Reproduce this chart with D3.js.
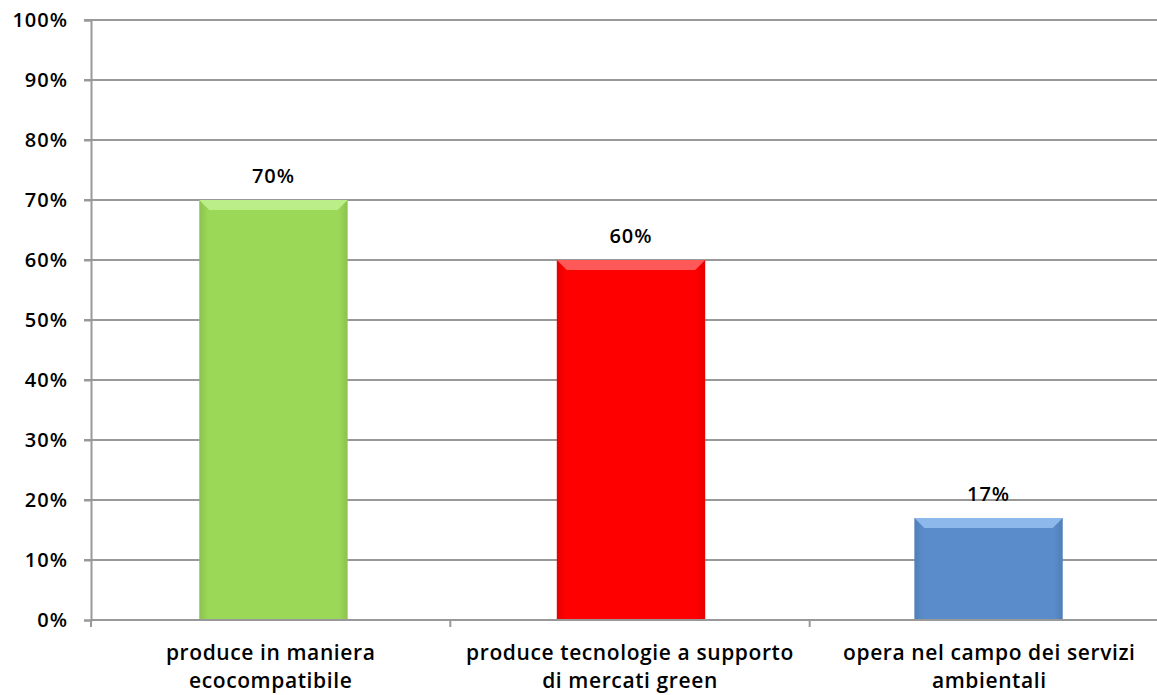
<!DOCTYPE html>
<html><head><meta charset="utf-8">
<script src="https://cdn.jsdelivr.net/npm/d3@7"></script>
<style>body{margin:0;background:#fff}svg{display:block}text{font-family:"Open Sans",sans-serif;fill:#000}</style>
</head><body><svg id="c" width="1157" height="695"></svg>
<script>
const categories = [["produce in maniera","ecocompatibile"],["produce tecnologie a supporto","di mercati green"],["opera nel campo dei servizi","ambientali"]];
const values = [70, 60, 17];
const barColors = ["#9bd858","#fe0000","#5a8ccc"];
const barTops = ["#bbee88","#ff5858","#8cb8ec"];
const yTicks = [0,10,20,30,40,50,60,70,80,90,100];

const svg = d3.select("#c");
const x0 = 91, x1 = 1169, yTop = 20, yBot = 620;
const x = d3.scaleBand().domain(d3.range(categories.length)).range([x0, x1]).paddingInner(0.585).paddingOuter(0.3);
const xb = d3.scaleBand().domain(d3.range(categories.length)).range([x0, x1]);
const y = d3.scaleLinear().domain([0,100]).range([yBot, yTop]);

svg.append("g").selectAll("line").data(yTicks.filter(d=>d>0)).join("line")
  .attr("x1", x0-7).attr("x2", 1157).attr("y1", d=>y(d)).attr("y2", d=>y(d))
  .attr("stroke","#999").attr("stroke-width",2);
const ya = svg.append("g").attr("transform",`translate(${x0},0)`)
  .call(d3.axisLeft(y).tickValues(yTicks).tickFormat(d=>d+"%").tickSize(7).tickPadding(16));
ya.select(".domain").attr("stroke","#999").attr("stroke-width",2);
ya.selectAll(".tick line").attr("stroke","#999").attr("stroke-width",2);
ya.selectAll("text").style("font-size","20px").style("font-weight","600").style("letter-spacing","1px").attr("fill","#000");

const defs = svg.append("defs");
values.forEach((v,i)=>{
  const g = defs.append("linearGradient").attr("id","g"+i).attr("x1",0).attr("x2",1).attr("y1",0).attr("y2",0);
  g.append("stop").attr("offset","0").attr("stop-color",d3.color(barColors[i]).darker(0.3));
  g.append("stop").attr("offset","0.06").attr("stop-color",barColors[i]);
  g.append("stop").attr("offset","0.94").attr("stop-color",barColors[i]);
  g.append("stop").attr("offset","1").attr("stop-color",d3.color(barColors[i]).darker(0.3));
});

const bars = svg.append("g").selectAll("g").data(values).join("g");
bars.append("rect").attr("x",(d,i)=>x(i)+1).attr("width",x.bandwidth())
  .attr("y",d=>y(d)).attr("height",d=>yBot-y(d)).attr("fill",(d,i)=>`url(#g${i})`);
bars.append("path").attr("d",(d,i)=>{const l=x(i)+1,r=l+x.bandwidth(),t=y(d),h=10;
  return `M${l},${t}L${r},${t}L${r-h},${t+h}L${l+h},${t+h}Z`;}).attr("fill",(d,i)=>barTops[i]);
bars.append("text").attr("x",(d,i)=>x(i)+1+x.bandwidth()/2).attr("y",d=>y(d)-17)
  .attr("text-anchor","middle").style("font-size","20px").style("font-weight","600").style("letter-spacing","1px").text(d=>d+"%");

svg.append("line").attr("x1",x0).attr("x2",1157).attr("y1",yBot).attr("y2",yBot).attr("stroke","#999").attr("stroke-width",2);
svg.append("g").selectAll("line").data(d3.range(categories.length+1)).join("line")
  .attr("x1",i=>x0+i*xb.bandwidth()).attr("x2",i=>x0+i*xb.bandwidth()).attr("y1",yBot).attr("y2",yBot+7)
  .attr("stroke","#999").attr("stroke-width",2);
const labs = svg.append("g").selectAll("text").data(categories).join("text")
  .attr("x",(d,i)=>xb(i)+xb.bandwidth()/2).attr("text-anchor","middle").style("font-size","21px").style("font-weight","600").style("letter-spacing","0.6px");
labs.selectAll("tspan").data(d=>d).join("tspan").attr("x",function(){return this.parentNode.getAttribute("x");})
  .attr("y",(d,j)=>660+j*28).text(d=>d);
</script></body></html>
